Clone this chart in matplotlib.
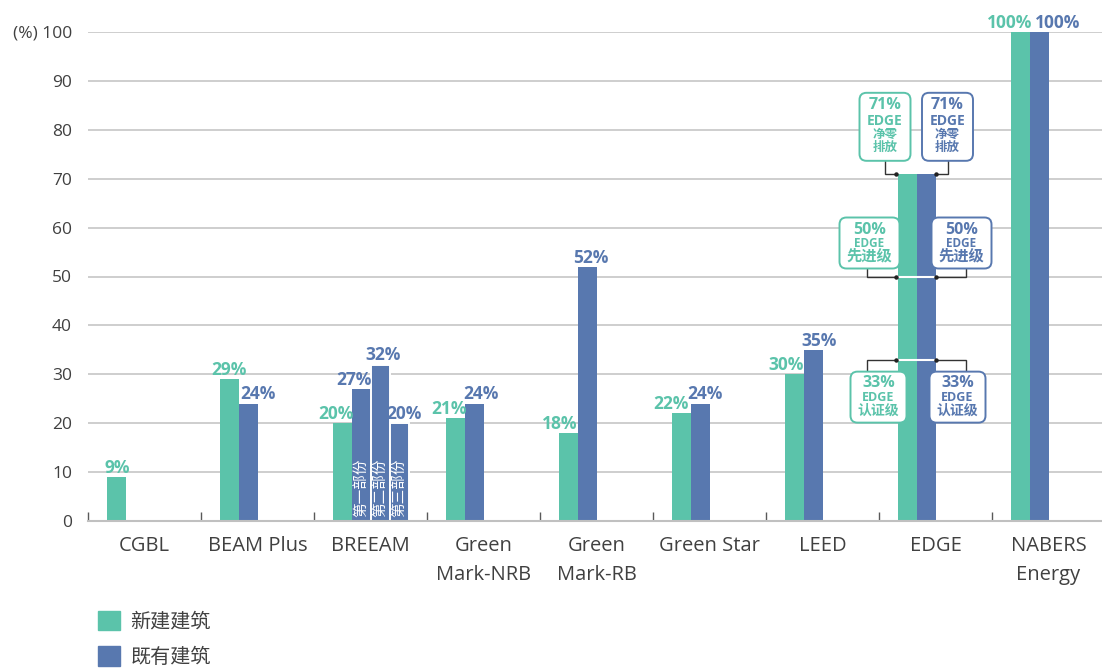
import matplotlib
matplotlib.use('Agg')
import matplotlib.pyplot as plt
from matplotlib.patches import FancyBboxPatch, Patch
from matplotlib.transforms import IdentityTransform
import numpy as np

plt.rcParams['font.family'] = ['Open Sans', 'Noto Sans CJK SC', 'DejaVu Sans']

# ---------------- data ----------------
categories = ['CGBL', 'BEAM Plus', 'BREEAM', 'Green\nMark-NRB', 'Green\nMark-RB',
              'Green Star', 'LEED', 'EDGE', 'NABERS\nEnergy']
new_build = [9, 29, 20, 21, 18, 22, 30, 71, 100]
existing = [None, 24, 27, 24, 52, 24, 35, 71, 100]
breeam_extra = [32, 20]
breeam_part_labels = ['第一部份', '第二部份', '第三部份']
edge_thresholds = [71, 50, 33]
edge_level_names = [['净零', '排放'], ['先进级'], ['认证级']]
yticks = [0, 10, 20, 30, 40, 50, 60, 70, 80, 90, 100]
ytick_labels = ['0', '10', '20', '30', '40', '50', '60', '70', '80', '90', '(%) 100']
legend_labels = ['新建建筑', '既有建筑']

GREEN = '#5BC3AA'
BLUE = '#5878AF'
TXT = '#404040'

W, H = 1102, 671
fig = plt.figure(figsize=(W / 100, H / 100), dpi=100)
ax = fig.add_axes([88 / W, (H - 521) / H, 1017 / W, 489 / H])
ax.set_xlim(-0.5, len(categories) - 0.5)
ax.set_ylim(0, 100)

w = 19 / 113
slot = [-1.5 * w, -0.5 * w, 0.5 * w, 1.5 * w]
x = np.arange(len(categories))

# bars
ax.bar(x + slot[0], new_build, w, color=GREEN, zorder=2)
ex_idx = [i for i, v in enumerate(existing) if v is not None]
ax.bar(x[ex_idx] + slot[1], [existing[i] for i in ex_idx], w, color=BLUE, zorder=2)
bi = categories.index('BREEAM')
ax.bar([bi + slot[2], bi + slot[3]], breeam_extra, w, color=BLUE,
       edgecolor='white', linewidth=1.4, zorder=2)

# value labels (x offsets in px, style only)
g_dx = [1, 0, -6, -6, -8, -10, -8, 0, -10]
b_dx = [0, 10, -7, 7, 4, 5, 6, 0, 19]
e_idx = categories.index('EDGE')
lab_kw = dict(textcoords='offset points', ha='center', va='baseline',
              fontsize=12.5, fontweight='bold', zorder=5, annotation_clip=False)
for i, v in enumerate(new_build):
    if i == e_idx:
        continue
    ax.annotate(f'{v}%', (x[i] + slot[0], v), xytext=(g_dx[i] * 0.72, 3),
                color=GREEN, **lab_kw)
for i in ex_idx:
    if i == e_idx:
        continue
    ax.annotate(f'{existing[i]}%', (x[i] + slot[1], existing[i]),
                xytext=(b_dx[i] * 0.72, 3), color=BLUE, **lab_kw)
for k, v in enumerate(breeam_extra):
    ax.annotate(f'{v}%', (bi + slot[2 + k], v), xytext=([3, 5][k] * 0.72, 3),
                color=BLUE, **lab_kw)

# BREEAM part labels
for k, s in enumerate(breeam_part_labels):
    ax.text(bi + slot[1 + k], 0.8, s, rotation=90, ha='center', va='bottom',
            color='white', fontsize=10.5, zorder=4,
            family=['Noto Sans CJK SC', 'DejaVu Sans'])

# axes styling
ax.set_yticks(yticks)
ax.set_yticklabels(ytick_labels)
ax.yaxis.grid(True, color='#c6c6c6', lw=1.2)
ax.set_axisbelow(True)
for s in ['left', 'right', 'top']:
    ax.spines[s].set_visible(False)
ax.spines['bottom'].set_color('#c0c0c0')
ax.spines['bottom'].set_linewidth(1.5)
ax.tick_params(axis='y', length=0, pad=11.5, labelsize=12.5, labelcolor=TXT)
ax.set_xticks(x)
ax.set_xticklabels(categories, fontsize=14.5, color=TXT, linespacing=1.62)
ax.set_xticks(np.arange(-0.5, len(categories), 1), minor=True)
ax.tick_params(axis='x', which='major', length=0, pad=10.5)
ax.tick_params(axis='x', which='minor', direction='in', length=6.5, width=1,
               color='#595959')

# EDGE annotations (layout in px)
layout = {
    71: dict(gcx=-12.5, bcx=12, bw=51, bh=68, gap=13, above=True, gc=-13, bc=12,
             dy=[12, 28, 42, 55], sz=[11.5, 10, 9, 9]),
    50: dict(gcx=-28, bcx=26, bw=60, bh=51, gap=8, above=True, gc=-31, bc=30,
             dy=[13, 26, 39], sz=[11.5, 8.5, 11]),
    33: dict(gcx=-19, bcx=22, bw=56, bh=51, gap=12, above=False, gc=-31, bc=30,
             dy=[11, 26, 39], sz=[11.5, 9, 10]),
}
T = ax.transData
Lx = T.transform((e_idx + slot[0] - w / 2, 0))[0]
Rx = T.transform((e_idx + slot[1] + w / 2, 0))[0]
idt = IdentityTransform()
for t, names in zip(edge_thresholds, edge_level_names):
    L = layout[t]
    ty = T.transform((0, t))[1]
    if L['above']:
        bot = ty + L['gap']
        top = bot + L['bh']
        edge_y = bot
    else:
        top = ty - L['gap']
        bot = top - L['bh']
        edge_y = top
    lines = [f'{t}%', 'EDGE'] + names
    for cx, col, cxn, endx in [(Lx + L['gcx'], GREEN, Lx + L['gc'], Lx - 1.5),
                               (Rx + L['bcx'], BLUE, Rx + L['bc'], Rx)]:
        box = FancyBboxPatch((cx - L['bw'] / 2, bot), L['bw'], L['bh'],
                             boxstyle='round,pad=0,rounding_size=7',
                             transform=idt, fc='white', ec=col, lw=1.4,
                             zorder=6, clip_on=False)
        ax.add_patch(box)
        for s, d, fs in zip(lines, L['dy'], L['sz']):
            ax.text(cx, top - d, s, transform=idt, ha='center', va='center',
                    fontsize=fs, fontweight='bold', color=col, zorder=7,
                    clip_on=False)
        ax.plot([cxn, cxn, endx], [edge_y, ty, ty], transform=idt, color='#333333',
                lw=1, zorder=5, clip_on=False, solid_joinstyle='miter')
        ax.plot([endx], [ty], 'o', transform=idt, color='#222222', ms=2.2,
                zorder=5, clip_on=False)
    if t < new_build[e_idx]:
        ax.plot([Lx - 1.5, Rx], [ty, ty], transform=idt, color='white', lw=1.5,
                zorder=3, clip_on=False)

# legend
handles = [Patch(color=GREEN), Patch(color=BLUE)]
leg = ax.legend(handles, legend_labels, loc='upper left',
                bbox_to_anchor=(98 / W, 1 - 611 / H), bbox_transform=fig.transFigure,
                frameon=False, fontsize=14.5, handlelength=1.1, handleheight=1.1,
                handletextpad=0.5, labelspacing=0.68, borderpad=0, borderaxespad=0)
for txt in leg.get_texts():
    txt.set_color(TXT)

fig.savefig('out.png', dpi=100)
